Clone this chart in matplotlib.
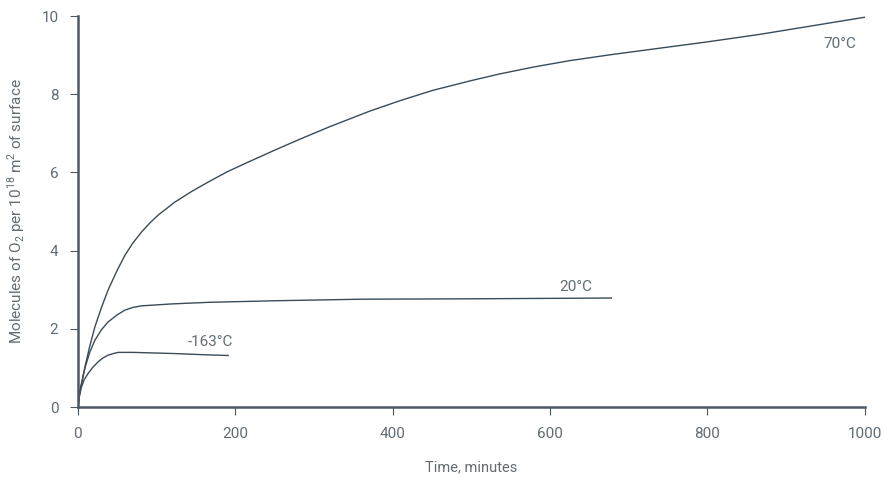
import matplotlib
matplotlib.use('Agg')
import matplotlib.pyplot as plt

# Data
t_70 = [0, 3, 9, 15, 21.6, 30, 38.5, 50, 59.7, 70, 81, 92, 102, 123, 145, 166, 190, 218, 250, 282,
        320, 371, 410, 451, 500, 536, 580, 625, 680, 740, 800, 866, 930, 1000]
o2_70 = [0, 0.45, 1.03, 1.55, 2.05, 2.55, 3.0, 3.5, 3.88, 4.2, 4.48, 4.72, 4.91, 5.24, 5.52, 5.76,
         6.02, 6.28, 6.57, 6.85, 7.17, 7.57, 7.84, 8.1, 8.35, 8.52, 8.7, 8.86, 9.02, 9.18, 9.34, 9.53, 9.74, 9.97]

t_20 = [0, 3, 9, 15, 21.6, 30, 38.5, 50, 59.7, 70, 81, 120, 166, 250, 360, 500, 678]
o2_20 = [0, 0.45, 1.0, 1.4, 1.71, 1.98, 2.18, 2.36, 2.48, 2.55, 2.59, 2.64, 2.68, 2.72, 2.76, 2.77, 2.79]

t_163 = [0, 2, 4.7, 8, 13, 19, 25.8, 32, 38.5, 45, 51, 70, 123, 160, 191]
o2_163 = [0, 0.3, 0.52, 0.7, 0.86, 1.02, 1.16, 1.26, 1.33, 1.37, 1.40, 1.40, 1.37, 1.34, 1.32]

labels = ['70°C', '20°C', '-163°C']
label_pos = [(968, 9.28), (633, 3.08), (169, 1.66)]

line_color = '#3b4b57'
text_color = '#616c74'
axis_color = '#4a5966'

plt.rcParams['font.family'] = ['Roboto', 'DejaVu Sans']
plt.rcParams['mathtext.fontset'] = 'custom'
plt.rcParams['mathtext.rm'] = 'Roboto'

fig = plt.figure(figsize=(8.85, 4.87), dpi=100)
ax = fig.add_axes([0.088, 0.164, 0.889, 0.803])

for t, y in [(t_70, o2_70), (t_20, o2_20), (t_163, o2_163)]:
    ax.plot(t, y, color=line_color, linewidth=1.0)

for lab, (x, y) in zip(labels, label_pos):
    ax.text(x, y, lab, ha='center', va='center', fontsize=11, color=text_color)

ax.set_xlim(0, 1000)
ax.set_ylim(0, 10)
ax.set_xticks([0, 200, 400, 600, 800, 1000])
ax.set_yticks([0, 2, 4, 6, 8, 10])

for side in ['top', 'right']:
    ax.spines[side].set_visible(False)
for side in ['left', 'bottom']:
    ax.spines[side].set_color(axis_color)
    ax.spines[side].set_linewidth(1.8)

ax.tick_params(colors=axis_color, labelcolor=text_color, labelsize=11,
               length=6, width=0.8, direction='out', pad=8)

ax.set_xlabel('Time, minutes', color=text_color, fontsize=10.5, labelpad=14)
ax.set_ylabel('Molecules of O$_2$ per 10$^{18}$ m$^2$ of surface',
              color=text_color, fontsize=11, labelpad=10)

fig.savefig('out.png', dpi=100)
